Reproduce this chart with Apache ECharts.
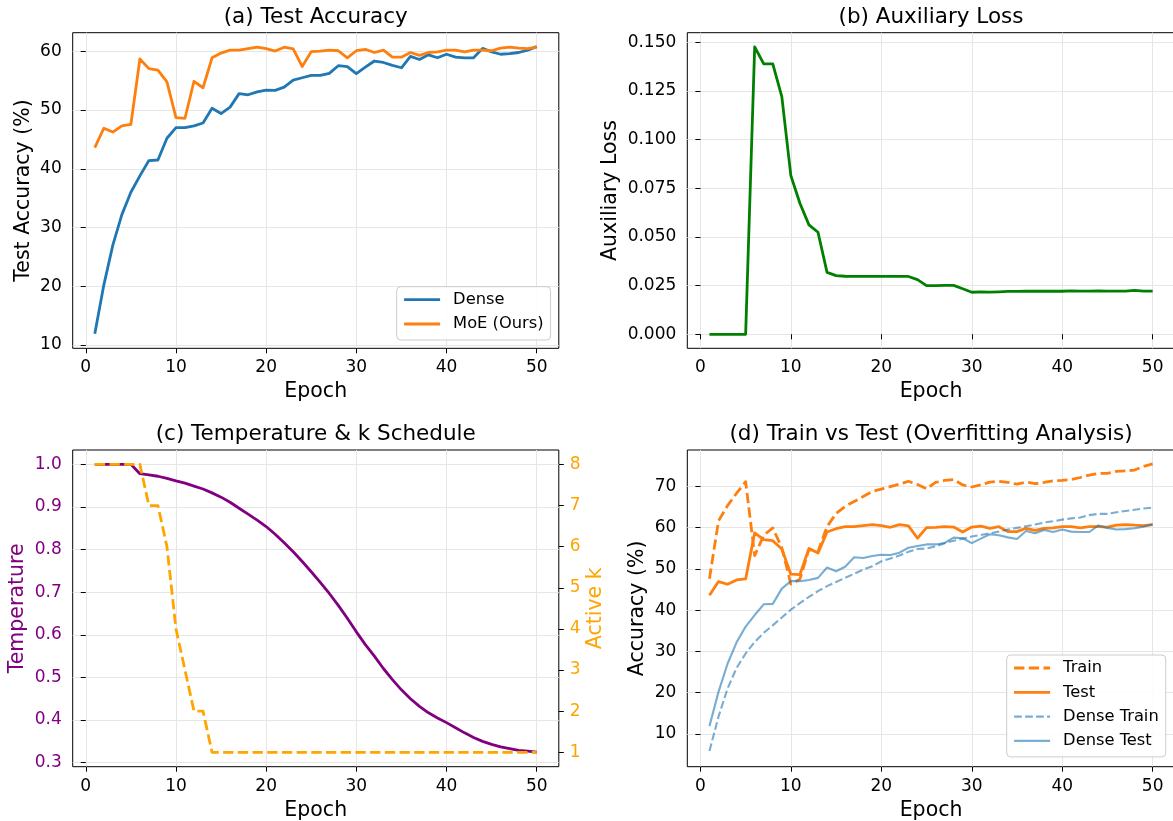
<!DOCTYPE html>
<html><head><meta charset="utf-8">
<script src="https://cdn.jsdelivr.net/npm/echarts@6/dist/echarts.min.js"></script>
<style>html,body{margin:0;padding:0;background:#fff}#c{width:1173px;height:821px}</style>
</head><body><div id="c"></div>
<script>
const epochs = [1,2,3,4,5,6,7,8,9,10,11,12,13,14,15,16,17,18,19,20,21,22,23,24,25,26,27,28,29,30,31,32,33,34,35,36,37,38,39,40,41,42,43,44,45,46,47,48,49,50];
const denseTest = [11.9,20.2,27.0,32.2,36.0,38.8,41.4,41.5,45.2,47.0,47.0,47.3,47.8,50.3,49.4,50.5,52.8,52.6,53.1,53.4,53.35,53.9,55.1,55.5,55.9,55.9,56.25,57.55,57.4,56.2,57.3,58.35,58.1,57.6,57.2,59.15,58.6,59.4,58.9,59.5,59.0,58.9,58.9,60.5,59.9,59.5,59.6,59.8,60.2,60.8];
const moeTest = [43.6,46.9,46.25,47.3,47.55,58.7,57.05,56.8,54.8,48.7,48.6,54.9,53.8,58.9,59.7,60.2,60.2,60.45,60.7,60.45,60.05,60.7,60.4,57.4,59.95,60.05,60.2,60.1,58.9,60.1,60.35,59.8,60.2,59.0,59.0,59.8,59.3,59.8,59.9,60.2,60.2,59.9,60.2,60.2,60.1,60.55,60.7,60.55,60.45,60.7];
const auxLoss = [0,0,0,0,0,0.1476,0.1389,0.1389,0.1221,0.0815,0.0673,0.0562,0.0524,0.0318,0.0301,0.0298,0.0297,0.0297,0.0297,0.0297,0.0297,0.0297,0.0297,0.0281,0.0250,0.0250,0.0251,0.0251,0.0234,0.0216,0.0218,0.0217,0.0218,0.0220,0.0220,0.0221,0.0221,0.0221,0.0222,0.0221,0.0223,0.0222,0.0222,0.0223,0.0222,0.0222,0.0222,0.0225,0.0222,0.0222];
const temperature = [1.0,1.0,1.0,1.0,1.0,0.978,0.975,0.972,0.967,0.961,0.956,0.949,0.942,0.933,0.923,0.911,0.897,0.883,0.869,0.854,0.836,0.816,0.795,0.772,0.748,0.723,0.697,0.669,0.639,0.607,0.577,0.550,0.521,0.495,0.471,0.450,0.432,0.417,0.405,0.394,0.382,0.370,0.359,0.350,0.343,0.337,0.333,0.329,0.327,0.325];
const activeK = [8,8,8,8,8,8,7,7,6,4,3,2,2,1,1,1,1,1,1,1,1,1,1,1,1,1,1,1,1,1,1,1,1,1,1,1,1,1,1,1,1,1,1,1,1,1,1,1,1,1];
const moeTrain = [47.6,61.6,65.3,68.3,71.1,53.2,58.1,59.9,55.1,46.3,47.5,54.7,54.2,60.2,63.4,65.1,66.3,67.5,68.7,69.3,69.9,70.5,71.2,70.4,69.4,70.9,71.4,71.6,70.3,69.8,70.3,71.0,71.2,70.9,70.5,71.0,70.6,70.9,71.3,71.4,71.6,72.1,72.7,73.1,73.1,73.6,73.7,73.9,74.8,75.4];
const denseTrain = [5.9,14.2,21.0,26.0,29.5,32.3,34.5,36.3,38.2,40.1,41.7,43.2,44.6,45.8,46.8,47.8,48.8,49.8,50.6,51.8,52.5,53.2,54.1,54.8,54.9,55.4,56.2,56.8,57.3,57.8,58.2,58.6,59.0,59.5,59.9,60.3,60.7,61.2,61.5,61.9,62.2,62.4,63.0,63.3,63.3,63.7,64.0,64.3,64.6,64.8];
const xTicks = [0,10,20,30,40,50];
const accTicksA = [10,20,30,40,50,60];
const auxTicks = [0,0.025,0.05,0.075,0.1,0.125,0.15];
const tempTicks = [0.3,0.4,0.5,0.6,0.7,0.8,0.9,1.0];
const kTicks = [1,2,3,4,5,6,7,8];
const accTicksD = [10,20,30,40,50,60,70];

const F = 'DejaVu Sans';
const TICK = 17, LAB = 20.5, TIT = 21.5;
const GRIDC = '#e6e6e6';
const pairs = ys => epochs.map((e, i) => [e, ys[i]]);

function xAx(gi) {
  return {
    type: 'value', gridIndex: gi, min: -1.45, max: 52.45,
    axisLine: {show: false},
    axisTick: {show: true, length: 5, customValues: xTicks, lineStyle: {color: '#000', width: 1}},
    axisLabel: {customValues: xTicks, margin: 11, fontSize: TICK, color: '#000', fontFamily: F},
    splitLine: {show: true, lineStyle: {color: GRIDC, width: 1}},
    name: 'Epoch', nameLocation: 'middle', nameGap: 33, nameMoveOverlap: false,
    nameTextStyle: {fontSize: LAB, color: '#000', fontFamily: F}
  };
}
function yAx(gi, o) {
  return Object.assign({
    type: 'value', gridIndex: gi,
    axisLine: {show: false},
    axisTick: {show: true, length: 5, customValues: o.ticks, lineStyle: {color: '#000', width: 1}},
    axisLabel: {customValues: o.ticks, margin: 11, fontSize: TICK, color: o.labelColor || '#000', fontFamily: F, formatter: o.fmt},
    splitLine: {show: o.split !== false, lineStyle: {color: GRIDC, width: 1}},
    nameLocation: 'middle', nameMoveOverlap: false,
    nameTextStyle: {fontSize: LAB, color: o.nameColor || '#000', fontFamily: F}
  }, o.extra);
}
function line(name, xi, yi, data, color, width, dash) {
  return {
    type: 'line', name, xAxisIndex: xi, yAxisIndex: yi, data: pairs(data),
    symbol: 'none', showSymbol: false, clip: true,
    itemStyle: {color},
    lineStyle: {color, width, type: dash || 'solid', cap: 'butt', join: 'round'}
  };
}
function legend(left, top, items) {
  return {
    show: true, orient: 'vertical', align: 'left', left, top,
    data: items.map(it => ({name: it[0], lineStyle: {width: it[1]}})),
    selectedMode: false, itemWidth: 36, itemHeight: 14, itemGap: 8.3,
    padding: [5, 7, 8, 6], backgroundColor: 'rgba(255,255,255,0.85)',
    borderColor: '#cccccc', borderWidth: 1, borderRadius: 4,
    itemStyle: {opacity: 0, borderWidth: 0},
    textStyle: {fontSize: 16.3, color: '#000', fontFamily: F, lineHeight: 16, padding: [0, 0, 0, 8]}
  };
}
const gridBase = {show: true, borderColor: '#000', borderWidth: 1, backgroundColor: 'transparent', containLabel: false, outerBoundsMode: 'none'};

const option = {
  animation: false,
  backgroundColor: '#fff',
  textStyle: {fontFamily: F},
  title: [
    {text: '(a) Test Accuracy', left: 315.75, top: 6, textAlign: 'center', padding: 0, textStyle: {fontSize: TIT, fontWeight: 'normal', color: '#000', fontFamily: F}},
    {text: '(b) Auxiliary Loss', left: 931, top: 6, textAlign: 'center', padding: 0, textStyle: {fontSize: TIT, fontWeight: 'normal', color: '#000', fontFamily: F}},
    {text: '(c) Temperature & k Schedule', left: 315.75, top: 423, textAlign: 'center', padding: 0, textStyle: {fontSize: TIT, fontWeight: 'normal', color: '#000', fontFamily: F}},
    {text: '(d) Train vs Test (Overfitting Analysis)', left: 931, top: 423, textAlign: 'center', padding: 0, textStyle: {fontSize: TIT, fontWeight: 'normal', color: '#000', fontFamily: F}}
  ],
  grid: [
    Object.assign({left: 72.7, top: 32.7, width: 486.1, height: 315.6}, gridBase),
    Object.assign({left: 687.3, top: 32.7, width: 487.5, height: 315.6}, gridBase),
    Object.assign({left: 72.7, top: 450, width: 486.1, height: 316.7}, gridBase),
    Object.assign({left: 687.3, top: 450, width: 487.5, height: 316.7}, gridBase)
  ],
  xAxis: [xAx(0), xAx(1), xAx(2), xAx(3)],
  yAxis: [
    yAx(0, {ticks: accTicksA, extra: {min: 9.44, max: 63.17, name: 'Test Accuracy (%)', nameGap: 39}}),
    yAx(1, {ticks: auxTicks, fmt: v => v.toFixed(3), extra: {min: -0.0072, max: 0.1549, name: 'Auxiliary Loss', nameGap: 66}}),
    yAx(2, {ticks: tempTicks, fmt: v => v.toFixed(1), labelColor: '#800080', nameColor: '#800080', extra: {min: 0.2906, max: 1.0336, name: 'Temperature', nameGap: 45}}),
    yAx(2, {ticks: kTicks, labelColor: '#ffa500', nameColor: '#ffa500', split: false, extra: {position: 'right', min: 0.65, max: 8.35, name: 'Active k', nameGap: 26}}),
    yAx(3, {ticks: accTicksD, extra: {min: 2.08, max: 78.76, name: 'Accuracy (%)', nameGap: 39}})
  ],
  legend: [
    legend(396.7, 286.7, [['Dense', 2.8], ['MoE (Ours)', 2.8]]),
    legend(1006.7, 655, [['Train', 2.8], ['Test', 2.8], ['Dense Train', 2.1], ['Dense Test', 2.1]])
  ],
  series: [
    line('Dense', 0, 0, denseTest, '#1f77b4', 2.8),
    line('MoE (Ours)', 0, 0, moeTest, '#ff7f0e', 2.8),
    line('Auxiliary Loss', 1, 1, auxLoss, '#008000', 2.8),
    line('Temperature', 2, 2, temperature, '#800080', 2.8),
    line('Active k', 2, 3, activeK, '#ffa500', 2.8, [10.3, 4.4]),
    line('Train', 3, 4, moeTrain, '#ff7f0e', 2.8, [10.3, 4.4]),
    line('Test', 3, 4, moeTest, '#ff7f0e', 2.8),
    line('Dense Train', 3, 4, denseTrain, 'rgba(31,119,180,0.6)', 2.1, [7.7, 3.3]),
    line('Dense Test', 3, 4, denseTest, 'rgba(31,119,180,0.6)', 2.1)
  ]
};
const chart = echarts.init(document.getElementById('c'), null, {renderer: 'canvas'});
chart.setOption(option);
</script>
</body></html>
